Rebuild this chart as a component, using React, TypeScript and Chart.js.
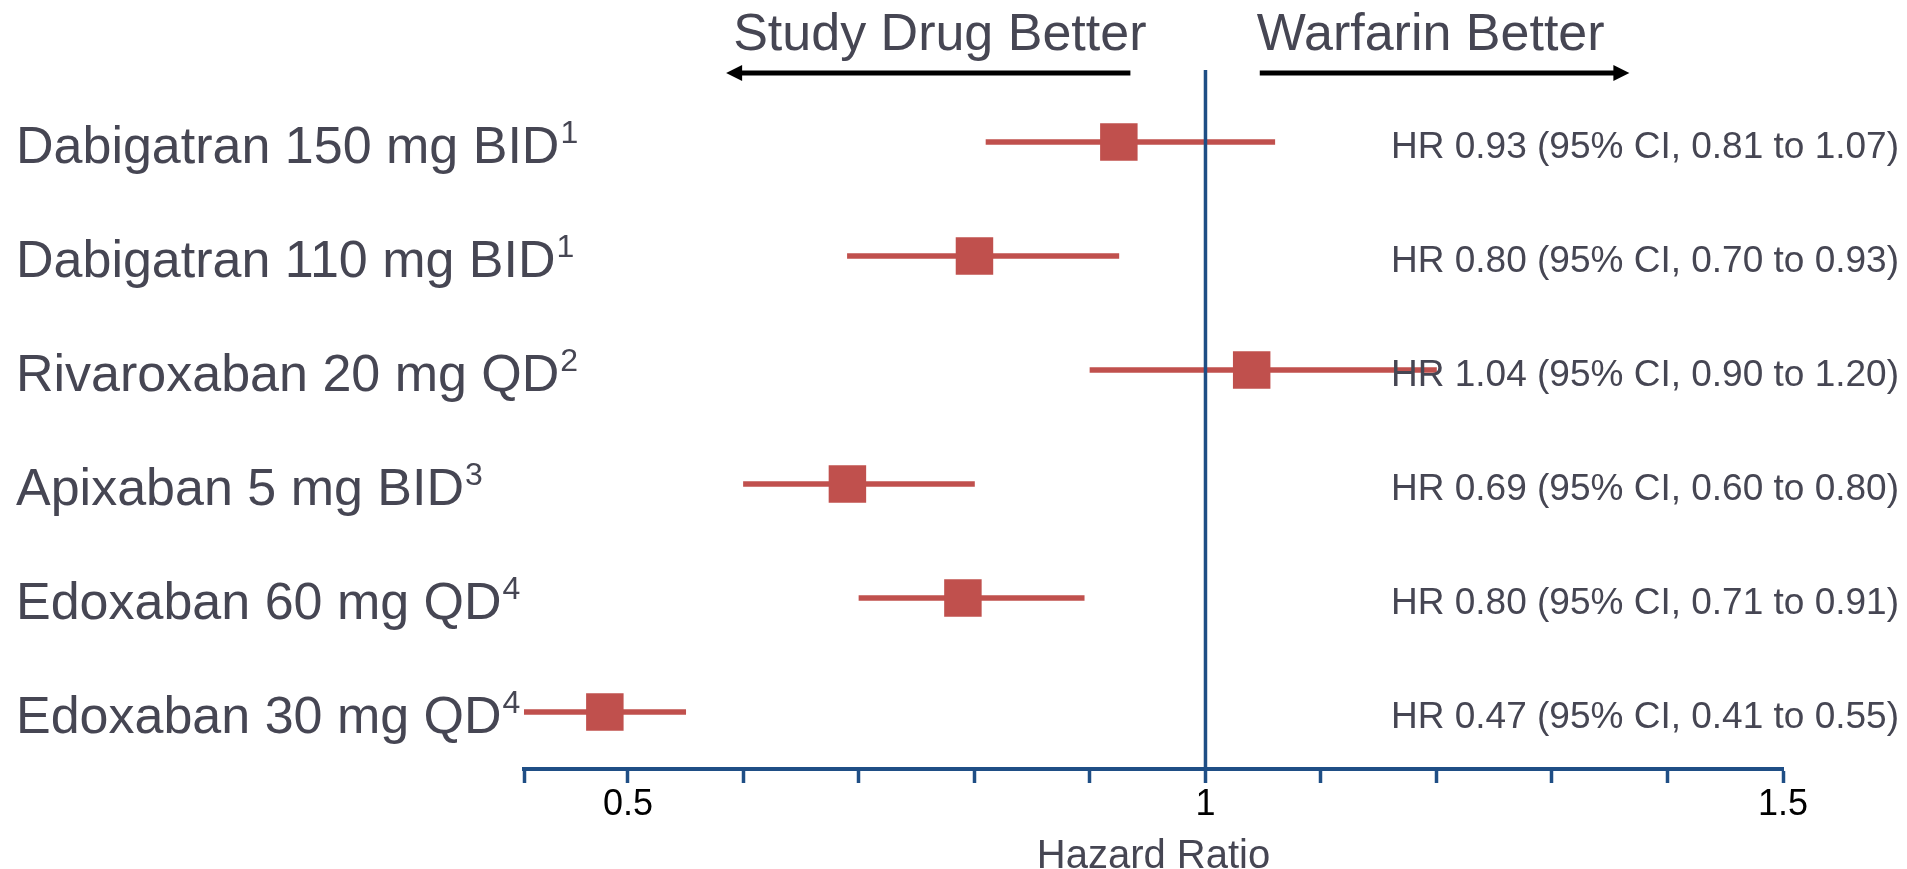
import React, { useEffect, useRef } from "react";
import { Chart, registerables } from "chart.js";

Chart.register(...registerables);

// ---------- data ----------
const categories = [
  "Dabigatran 150 mg BID",
  "Dabigatran 110 mg BID",
  "Rivaroxaban 20 mg QD",
  "Apixaban 5 mg BID",
  "Edoxaban 60 mg QD",
  "Edoxaban 30 mg QD",
];
const references = ["1", "1", "2", "3", "4", "4"];
const hazardRatios = [0.925, 0.8, 1.04, 0.69, 0.79, 0.48];
const ciLower = [0.81, 0.69, 0.9, 0.6, 0.7, 0.41];
const ciUpper = [1.06, 0.925, 1.2, 0.8, 0.895, 0.55];
const ciTexts = [
  "HR 0.93 (95% CI, 0.81 to 1.07)",
  "HR 0.80 (95% CI, 0.70 to 0.93)",
  "HR 1.04 (95% CI, 0.90 to 1.20)",
  "HR 0.69 (95% CI, 0.60 to 0.80)",
  "HR 0.80 (95% CI, 0.71 to 0.91)",
  "HR 0.47 (95% CI, 0.41 to 0.55)",
];
const axisMin = 0.41;
const axisMax = 1.5;
const tickValues = [0.41, 0.5, 0.6, 0.7, 0.8, 0.9, 1.0, 1.1, 1.2, 1.3, 1.4, 1.5];
const labeledTickValues = [0.5, 1, 1.5];
const tickLabels = ["0.5", "1", "1.5"];
const referenceValue = 1;
const leftHeader = "Study Drug Better";
const rightHeader = "Warfarin Better";
const leftHeaderCenter = 0.77;
const rightHeaderCenter = 1.195;
const leftArrow = [0.935, 0.585]; // tail, tip
const rightArrow = [1.047, 1.367]; // tail, tip
const xTitle = "Hazard Ratio";

// ---------- styles ----------
const FONT = '"Liberation Sans", Arial, Helvetica, sans-serif';
const TEXT = "#464653";
const RED = "#C0504D";
const BLUE = "#1f4e85";

const drawArrow = (ctx: CanvasRenderingContext2D, tail: number, tip: number, y: number) => {
  const dir = tip > tail ? 1 : -1;
  const head = 16;
  ctx.strokeStyle = "#000";
  ctx.fillStyle = "#000";
  ctx.lineWidth = 5;
  ctx.beginPath();
  ctx.moveTo(tail, y);
  ctx.lineTo(tip - dir * (head - 2), y);
  ctx.stroke();
  ctx.beginPath();
  ctx.moveTo(tip, y);
  ctx.lineTo(tip - dir * head, y - 8);
  ctx.lineTo(tip - dir * head, y + 8);
  ctx.closePath();
  ctx.fill();
};

const forestPlugin = {
  id: "forestAnnotations",
  afterDatasetsDraw(chart: any) {
    const { ctx, chartArea, scales } = chart;
    const x = scales.x;
    const y = scales.y;
    ctx.save();
    // reference line at HR = 1
    const xr = x.getPixelForValue(referenceValue);
    ctx.strokeStyle = BLUE;
    ctx.lineWidth = 3.5;
    ctx.beginPath();
    ctx.moveTo(xr, chartArea.top - 15);
    ctx.lineTo(xr, chartArea.bottom);
    ctx.stroke();

    // headers
    ctx.fillStyle = TEXT;
    ctx.font = `52px ${FONT}`;
    ctx.textAlign = "center";
    ctx.textBaseline = "middle";
    ctx.fillText(leftHeader, x.getPixelForValue(leftHeaderCenter), 36);
    ctx.fillText(rightHeader, x.getPixelForValue(rightHeaderCenter), 36);

    // arrows
    drawArrow(ctx, x.getPixelForValue(leftArrow[0]), x.getPixelForValue(leftArrow[1]), 73);
    drawArrow(ctx, x.getPixelForValue(rightArrow[0]), x.getPixelForValue(rightArrow[1]), 73);

    // row labels and CI texts
    categories.forEach((cat, i) => {
      const yc = y.getPixelForValue(i);
      ctx.textAlign = "left";
      ctx.textBaseline = "alphabetic";
      ctx.fillStyle = TEXT;
      ctx.font = `52px ${FONT}`;
      ctx.fillText(cat, 16, yc + 20.5);
      const w = ctx.measureText(cat).width;
      ctx.font = `32px ${FONT}`;
      ctx.fillText(references[i], 16 + w + 1, yc + 1);

      ctx.font = `37px ${FONT}`;
      ctx.fillText(ciTexts[i], 1391, yc + 16);
    });
    ctx.restore();
  },
};

export default function App() {
  const canvasRef = useRef<HTMLCanvasElement | null>(null);

  useEffect(() => {
    if (!canvasRef.current) return;
    const chart = new Chart(canvasRef.current, {
      type: "bar",
      data: {
        labels: categories,
        datasets: [
          {
            type: "line",
            label: "Hazard ratio",
            data: hazardRatios,
            indexAxis: "y",
            showLine: false,
            pointStyle: "rect",
            pointRadius: 26.5,
            pointBackgroundColor: RED,
            pointBorderWidth: 0,
            borderColor: RED,
            order: 1,
          } as any,
          {
            type: "bar",
            label: "95% CI",
            data: ciLower.map((lo, i) => [lo, ciUpper[i]]),
            indexAxis: "y",
            backgroundColor: RED,
            borderWidth: 0,
            barThickness: 5,
            order: 2,
          } as any,
        ],
      },
      options: {
        indexAxis: "y",
        responsive: false,
        animation: false,
        events: [],
        layout: { padding: { left: 524, right: 124, top: 85, bottom: 0 } },
        plugins: {
          legend: { display: false },
          tooltip: { enabled: false },
          title: { display: false },
        },
        scales: {
          x: {
            type: "linear",
            min: axisMin,
            max: axisMax,
            afterBuildTicks: (scale: any) => {
              scale.ticks = tickValues.map((v) => ({ value: v }));
            },
            afterFit: (scale: any) => {
              scale.height = 100;
            },
            border: { display: true, color: BLUE, width: 4 },
            grid: {
              display: true,
              drawOnChartArea: false,
              drawTicks: true,
              tickLength: 14,
              tickWidth: 3.5,
              tickColor: BLUE,
              color: BLUE,
            },
            ticks: {
              autoSkip: false,
              maxRotation: 0,
              minRotation: 0,
              padding: 4,
              color: "#000",
              font: { family: FONT, size: 36, lineHeight: 1 },
              callback: (value: any) => {
                const idx = labeledTickValues.findIndex((t) => Math.abs(t - Number(value)) < 1e-6);
                return idx >= 0 ? tickLabels[idx] : "";
              },
            },
            title: {
              display: true,
              text: xTitle,
              color: TEXT,
              font: { family: FONT, size: 40, lineHeight: 0.6 },
              padding: { top: 0, bottom: 0 },
            },
          },
          y: {
            type: "category",
            display: false,
            offset: true,
          },
        },
      } as any,
      plugins: [forestPlugin],
    });
    return () => chart.destroy();
  }, []);

  return (
    <div style={{ position: "absolute", left: 0, top: 0, width: 1907, height: 869, background: "#fff" }}>
      <canvas ref={canvasRef} width={1907} height={869} />
    </div>
  );
}
